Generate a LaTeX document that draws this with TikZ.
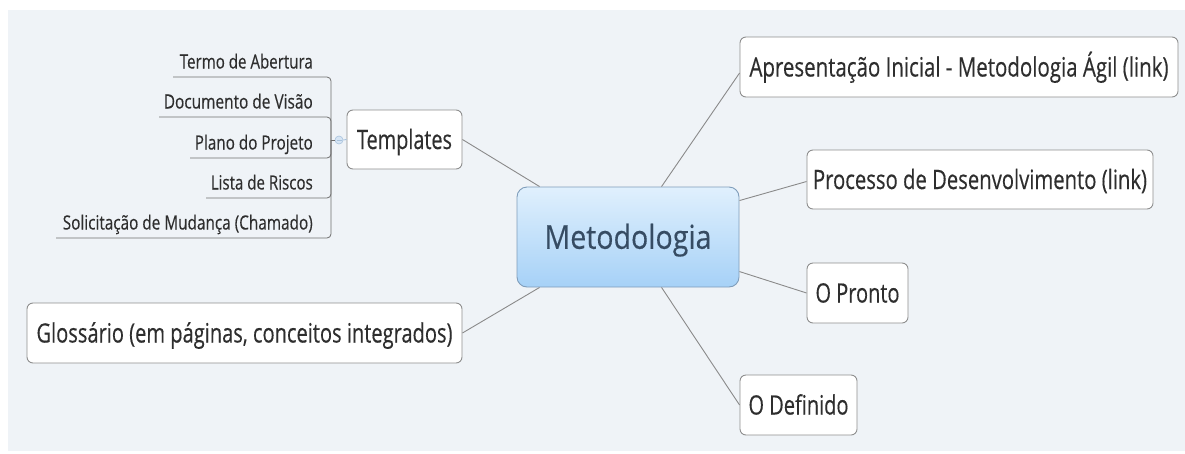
\documentclass[tikz,border=0pt]{standalone}
\usepackage{fontspec}
\setmainfont[FakeBold=0.4]{Open Sans}
\usepackage{graphicx}
\usetikzlibrary{calc}
\definecolor{bg}{HTML}{EFF3F7}
\definecolor{boxline}{HTML}{8E8E8E}
\definecolor{conncol}{HTML}{8A8A8A}
\definecolor{txtcol}{HTML}{2E2E2E}
\definecolor{ctxt}{HTML}{364C63}
\definecolor{ctop}{HTML}{E0F0FD}
\definecolor{cbot}{HTML}{A6D1F7}
\definecolor{cline}{HTML}{7F9DBA}
\definecolor{subline}{HTML}{6E6E6E}
\definecolor{colfill}{HTML}{D6E5F4}
\definecolor{colline}{HTML}{A9C3DD}
\newcommand\fittxt[3]{\resizebox{#1pt}{#2pt}{\smash{#3}\vphantom{H}}}
\tikzset{
  topic/.style={draw=boxline, line width=0.9pt, fill=white, rounded corners=6pt,
    inner sep=0pt, text=txtcol},
  central/.style={draw=cline, line width=0.9pt, top color=ctop, bottom color=cbot,
    rounded corners=10pt, inner sep=0pt, text=ctxt,
    minimum width=222pt, minimum height=100pt},
  subtopic/.style={inner sep=0pt, anchor=base east, text=txtcol},
  subconn/.style={draw=subline, line width=0.8pt, rounded corners=4pt},
  conn/.style={draw=conncol, line width=0.9pt},
}
\begin{document}
\begin{tikzpicture}[x=1pt,y=-1pt]
\useasboundingbox (0,0) rectangle (1185,453);
\fill[white] (0,0) rectangle (1185,453);
\fill[bg] (8,10) rectangle (1185,451);

% central
\node[central] (m) at (628,237) {\fittxt{167}{23.5}{Metodologia}};

% main topics
\node[topic, minimum width=438pt, minimum height=60pt] (a) at (959,67)
  {\fittxt{419}{19}{Apresentação Inicial - Metodologia Ágil (link)}};
\node[topic, minimum width=346pt, minimum height=59pt] (p) at (980,179.5)
  {\fittxt{334}{19}{Processo de Desenvolvimento (link)}};
\node[topic, minimum width=101pt, minimum height=60pt] (pr) at (857.5,293)
  {\fittxt{84}{19}{O Pronto}};
\node[topic, minimum width=117pt, minimum height=60pt] (d) at (798.5,405)
  {\fittxt{100}{19}{O Definido}};
\node[topic, minimum width=435pt, minimum height=60pt] (g) at (244.5,333)
  {\fittxt{416}{19}{Glossário (em páginas, conceitos integrados)}};
\node[topic, minimum width=115pt, minimum height=59pt] (t) at (404.5,139.5)
  {\fittxt{95}{19}{Templates}};

% connectors from central topic
\draw[conn] (t.east) -- ($(m.north west)+(23,0)$);
\draw[conn] ($(m.north west)+(145,0)$) -- ($(a.west)+(0,6)$);
\draw[conn] ($(m.north east)+(0,14)$) -- ($(p.west)+(0,2)$);
\draw[conn] ($(m.north east)+(0,85)$) -- (pr.west);
\draw[conn] ($(m.south west)+(145,0)$) -- (d.west);
\draw[conn] (g.east) -- ($(m.south west)+(23,0)$);

% subtopics of Templates
\node[subtopic] (s1) at (313,68.5) {\fittxt{133}{14}{Termo de Abertura}};
\node[subtopic] (s2) at (313,108.5) {\fittxt{149}{14}{Documento de Visão}};
\node[subtopic] (s3) at (313,149.5) {\fittxt{118}{14}{Plano do Projeto}};
\node[subtopic] (s4) at (313,189.5) {\fittxt{102}{14}{Lista de Riscos}};
\node[subtopic] (s5) at (313,229.5) {\fittxt{250}{14}{Solicitação de Mudança (Chamado)}};

\coordinate (j) at (331,140);
\coordinate (u1) at (173,77);
\coordinate (u2) at (159,117);
\coordinate (u3) at (190,158);
\coordinate (u4) at (206,198);
\coordinate (u5) at (56,238);

\node[circle, draw=colline, fill=colfill, line width=0.6pt, inner sep=0pt,
  minimum size=8pt] (col) at (339,140) {};
\draw[conn, draw=colline] (t.west) -- (col.east);
\draw[subconn] (col.west) -- (j);
\foreach \u in {u1,u2,u3,u4,u5} {
  \draw[subconn] (j) |- (\u);
}
\draw[colline, line width=0.7pt] ($(col.center)+(-2.5,0)$) -- ($(col.center)+(2.5,0)$);
\end{tikzpicture}
\end{document}
